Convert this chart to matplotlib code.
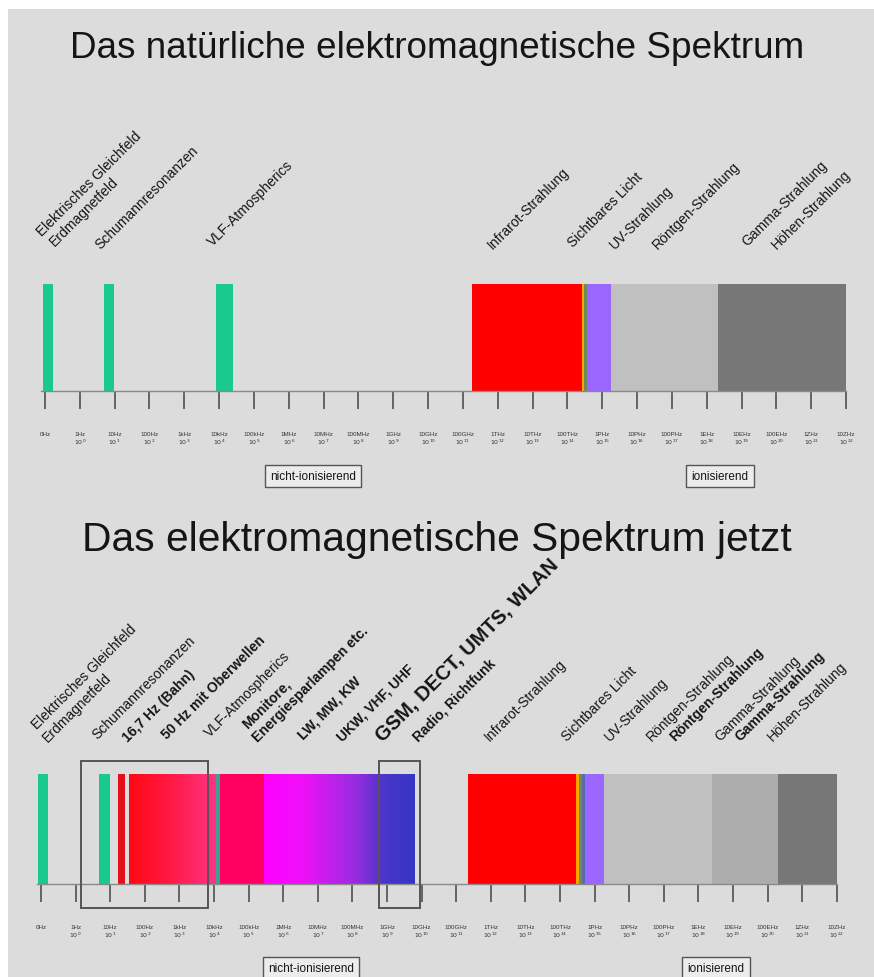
import numpy as np
import matplotlib
matplotlib.use("Agg")
import matplotlib.pyplot as plt
from matplotlib.colors import LinearSegmentedColormap
from matplotlib.patches import Rectangle

plt.rcParams['font.family'] = ['Liberation Sans', 'DejaVu Sans']

W, H, DPI = 874, 978, 100

# ---------------- data ----------------
tick_units = ["0Hz", "1Hz", "10Hz", "100Hz", "1kHz", "10kHz", "100kHz", "1MHz",
              "10MHz", "100MHz", "1GHz", "10GHz", "100GHz", "1THz", "10THz",
              "100THz", "1PHz", "10PHz", "100PHz", "1EHz", "10EHz", "100EHz",
              "1ZHz", "10ZHz"]
tick_exponents = [None] + list(range(0, 23))

# natural spectrum (positions on the log-frequency tick scale)
top_starts = [-0.06, 1.70, 4.90, 12.27, 15.41, 15.48, 15.56, 16.24, 19.31]
top_ends = [0.23, 1.98, 5.40, 15.41, 15.48, 15.56, 16.24, 19.31, 23.0]
top_colors = ['#19c98f', '#19c98f', '#19c98f', '#ff0000', '#ffa500',
              '#6e8a55', '#9966ff', '#c0c0c0', '#777777']

top_labels = ["Elektrisches Gleichfeld", "Erdmagnetfeld", "Schumannresonanzen",
              "VLF-Atmospherics", "Infrarot-Strahlung", "Sichtbares Licht",
              "UV-Strahlung", "Röntgen-Strahlung", "Gamma-Strahlung",
              "Höhen-Strahlung"]
top_label_x = [-0.09, 0.29, 1.58, 4.82, 12.86, 15.16, 16.37, 17.60, 20.16, 21.02]

# present-day spectrum
bot_starts = [-0.09, 1.68, 2.22, 5.03, 5.17, 12.34, 15.46, 15.55, 15.65,
              15.72, 16.27, 19.40, 21.30]
bot_ends = [0.20, 1.99, 2.43, 5.17, 6.45, 15.46, 15.55, 15.65, 15.72,
            16.27, 19.40, 21.30, 23.0]
bot_colors = ['#19c98f', '#19c98f', '#e3101c', '#3f9e96', '#ff0060', '#ff0000',
              '#ffa500', '#6e8a55', '#5b6aa8', '#9966ff', '#c0c0c0', '#adadad',
              '#777777']
grad_starts = [2.54, 6.45]
grad_ends = [5.03, 10.80]
grad_colors = [['#ff0814', '#ff1a48', '#ff3384'],
               ['#ff00ff', '#f010f8', '#9a2ce0', '#4a36c8', '#3535c4']]
grad_stops = [[0.0, 0.5, 1.0], [0.0, 0.25, 0.6, 0.8, 1.0]]
box_starts = [1.16, 9.77]
box_ends = [4.83, 10.95]

bot_labels = ["Elektrisches Gleichfeld", "Erdmagnetfeld", "Schumannresonanzen",
              "16,7 Hz (Bahn)", "50 Hz mit Oberwellen", "VLF-Atmospherics",
              "Monitore,", "Energiesparlampen etc.", "LW, MW, KW",
              "UKW, VHF, UHF", "GSM, DECT, UMTS, WLAN", "Radio, Richtfunk",
              "Infrarot-Strahlung", "Sichtbares Licht", "UV-Strahlung",
              "Röntgen-Strahlung", "Röntgen-Strahlung", "Gamma-Strahlung",
              "Gamma-Strahlung", "Höhen-Strahlung"]
bot_label_x = [-0.12, 0.20, 1.62, 2.51, 3.64, 4.88, 5.95, 6.27, 7.57, 8.70,
               9.88, 10.90, 12.98, 15.20, 16.45, 17.66, 18.32, 19.62, 20.20, 21.16]
bot_label_bold = [False, False, False, True, True, False, True, True, True, True,
                  True, True, False, False, False, False, True, False, True, False]

# ---------------- layout ----------------
top_label_dy = [48, 38, 35, 38, 35, 37, 35, 35, 38, 35]      # px above bar top
bot_label_dy = [45, 32, 35, 32, 35, 37, 46, 32, 35, 33, 32, 33, 33, 33, 33, 33,
                33, 33, 33, 33]
bot_label_size = [10] * 20
bot_label_size[10] = 14.5

fig = plt.figure(figsize=(W / DPI, H / DPI), dpi=DPI, facecolor='white')
fig.patches.append(Rectangle((8 / W, 0), 1, 1 - 10 / H, transform=fig.transFigure,
                             facecolor='#dcdcdc', edgecolor='none', zorder=-10))


def fx(px):
    return px / W


def fy(py):
    return 1 - py / H


def make_axes(x0px, step, top_px, bot_px):
    xl = (-1.0, 23.6)
    left = x0px + step * xl[0]
    right = x0px + step * xl[1]
    ax = fig.add_axes([fx(left), fy(bot_px), (right - left) / W, (bot_px - top_px) / H])
    ax.set_facecolor('none')
    for s in ['top', 'right', 'left']:
        ax.spines[s].set_visible(False)
    ax.spines['bottom'].set_color('#8a8a8a')
    ax.spines['bottom'].set_linewidth(1.0)
    ax.spines['bottom'].set_bounds(-0.12, 23)
    ax.set_yticks([])
    ax.set_xticks(range(len(tick_units)))
    labels = []
    for u, e in zip(tick_units, tick_exponents):
        labels.append(u if e is None else u + "\n" + r"$10^{%d}$" % e)
    ax.set_xticklabels(labels, fontsize=4.5, color='#333333', linespacing=1.0)
    ax.tick_params(axis='x', length=13, width=1.3, color='#5a5a5a', pad=16)
    return ax, xl


def finish(ax, xl):
    ax.set_xlim(*xl)
    ax.set_ylim(0, 1)


# ---------------- top panel ----------------
fig.text(0.5, fy(48), "Das natürliche elektromagnetische Spektrum", ha='center',
         va='center', fontsize=26.6, color='#151515')
axt, xlt = make_axes(45, 34.83, 285, 392)
axt.bar(top_starts, 1, width=np.array(top_ends) - np.array(top_starts), bottom=0,
        align='edge', color=top_colors, edgecolor='none', zorder=2)
for lab, x, dy in zip(top_labels, top_label_x, top_label_dy):
    axt.annotate(lab, xy=(x, 1), xycoords=('data', 'axes fraction'),
                 xytext=(0, dy * 0.72), textcoords='offset points', rotation=45,
                 rotation_mode='anchor', ha='left', va='baseline', fontsize=10,
                 color='#151515', annotation_clip=False)
finish(axt, xlt)

# ---------------- bottom panel ----------------
fig.text(0.5, fy(540), "Das elektromagnetische Spektrum jetzt", ha='center',
         va='center', fontsize=29.3, color='#151515')
axb, xlb = make_axes(41, 34.6, 775, 885)
axb.bar(bot_starts, 1, width=np.array(bot_ends) - np.array(bot_starts), bottom=0,
        align='edge', color=bot_colors, edgecolor='none', zorder=2)
for s, e, cols, stops in zip(grad_starts, grad_ends, grad_colors, grad_stops):
    cmap = LinearSegmentedColormap.from_list('g', list(zip(stops, cols)))
    axb.imshow(np.linspace(0, 1, 256)[None, :], extent=(s, e, 0, 1), cmap=cmap,
               aspect='auto', interpolation='bilinear', zorder=2)
for s, e in zip(box_starts, box_ends):
    axb.add_patch(Rectangle((s, -0.218), e - s, 1.336, fill=False, edgecolor='#555555',
                            linewidth=1.4, clip_on=False, zorder=4))
for lab, x, dy, b, fs in zip(bot_labels, bot_label_x, bot_label_dy, bot_label_bold,
                             bot_label_size):
    axb.annotate(lab, xy=(x, 1), xycoords=('data', 'axes fraction'),
                 xytext=(0, dy * 0.72), textcoords='offset points', rotation=45,
                 rotation_mode='anchor', ha='left', va='baseline', fontsize=fs,
                 fontweight='bold' if b else 'normal', color='#151515',
                 annotation_clip=False)
finish(axb, xlb)

# ---------------- ionisation boxes ----------------
box_kw = dict(boxstyle='square,pad=0.45', facecolor='#ececec', edgecolor='#555555',
              linewidth=1.0)
fig.text(fx(313), fy(477), "nicht-ionisierend", ha='center', va='center',
         fontsize=8.5, color='#151515', bbox=box_kw)
fig.text(fx(720), fy(477), "ionisierend", ha='center', va='center',
         fontsize=8.5, color='#151515', bbox=box_kw)
fig.text(fx(311), fy(969), "nicht-ionisierend", ha='center', va='center',
         fontsize=8.5, color='#151515', bbox=box_kw)
fig.text(fx(716), fy(969), "ionisierend", ha='center', va='center',
         fontsize=8.5, color='#151515', bbox=box_kw)

fig.savefig("out.png", dpi=DPI, facecolor=fig.get_facecolor())
